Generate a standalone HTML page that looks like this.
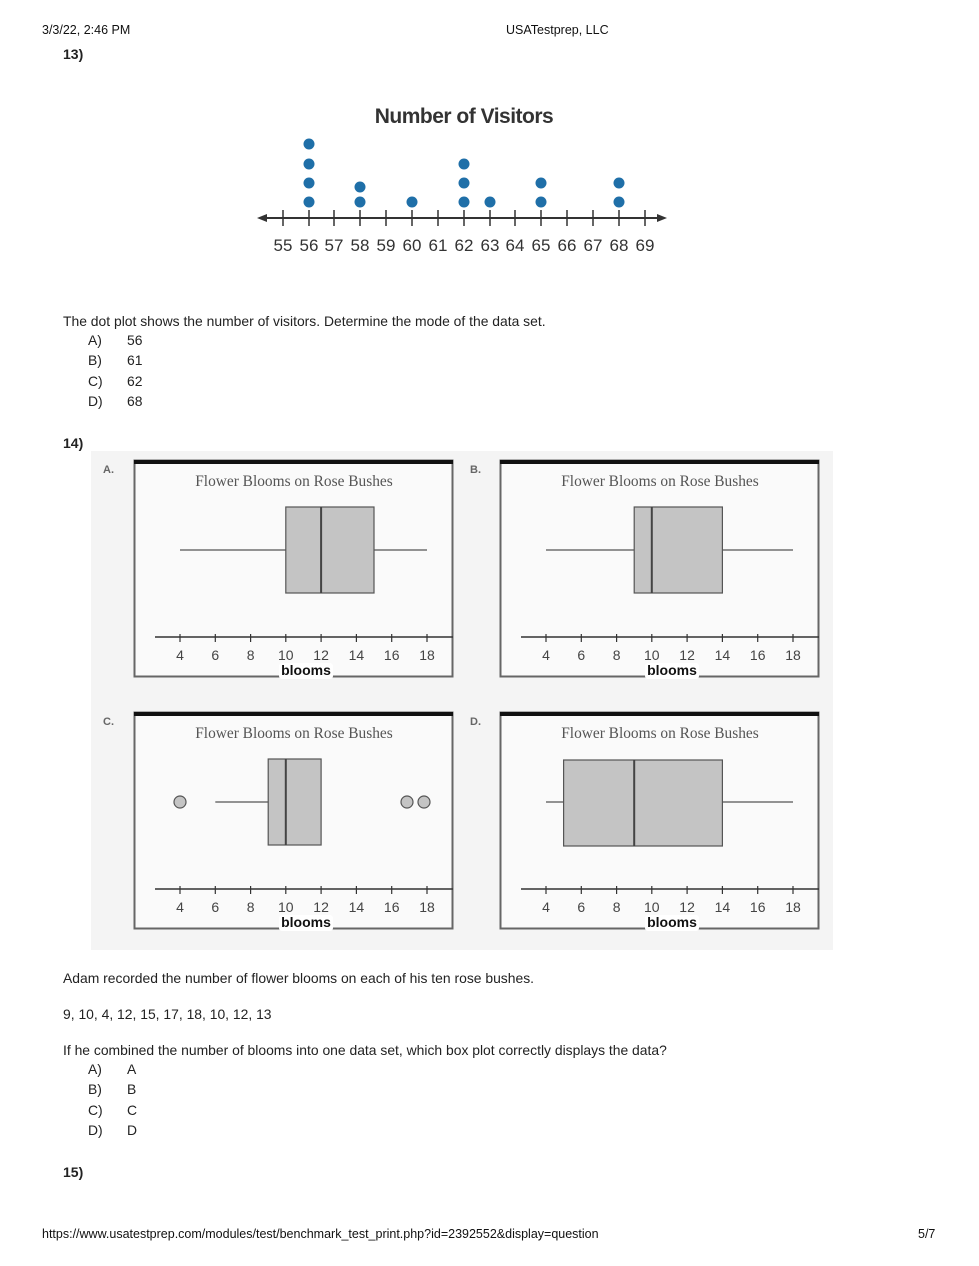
<!DOCTYPE html>
<html><head><meta charset="utf-8"><style>
body{margin:0;width:979px;height:1266px;background:#fff;position:relative;font-family:"Liberation Sans",sans-serif;color:#222;overflow:hidden}
.a{position:absolute;white-space:nowrap}
.h{font-size:12.5px;color:#111}
.t{font-size:13.9px}
.b{font-weight:bold;font-size:14px}
</style></head><body>
<div class="a h" style="left:42px;top:23px">3/3/22, 2:46 PM</div>
<div class="a h" style="left:506px;top:23px">USATestprep, LLC</div>
<div class="a b" style="left:63px;top:46px">13)</div>

<svg class="a" style="left:0;top:0" width="979" height="1266">
<text x="464" y="123" text-anchor="middle" font-family="Liberation Sans" font-weight="bold" font-size="21" fill="#333" letter-spacing="-0.5">Number of Visitors</text>
<line x1="262" y1="218" x2="662" y2="218" stroke="#333" stroke-width="2"/>
<polygon points="257,218 267,214 267,222" fill="#333"/><polygon points="667,218 657,214 657,222" fill="#333"/>
<g stroke="#333" stroke-width="1.5">
<line x1="283" y1="210" x2="283" y2="226"/><line x1="309" y1="210" x2="309" y2="226"/><line x1="334" y1="210" x2="334" y2="226"/><line x1="360" y1="210" x2="360" y2="226"/><line x1="386" y1="210" x2="386" y2="226"/><line x1="412" y1="210" x2="412" y2="226"/><line x1="438" y1="210" x2="438" y2="226"/><line x1="464" y1="210" x2="464" y2="226"/><line x1="490" y1="210" x2="490" y2="226"/><line x1="515" y1="210" x2="515" y2="226"/><line x1="541" y1="210" x2="541" y2="226"/><line x1="567" y1="210" x2="567" y2="226"/><line x1="593" y1="210" x2="593" y2="226"/><line x1="619" y1="210" x2="619" y2="226"/><line x1="645" y1="210" x2="645" y2="226"/>
</g>
<g font-family="Liberation Sans" font-size="17" fill="#333" text-anchor="middle">
<text x="283" y="251">55</text><text x="309" y="251">56</text><text x="334" y="251">57</text><text x="360" y="251">58</text><text x="386" y="251">59</text><text x="412" y="251">60</text><text x="438" y="251">61</text><text x="464" y="251">62</text><text x="490" y="251">63</text><text x="515" y="251">64</text><text x="541" y="251">65</text><text x="567" y="251">66</text><text x="593" y="251">67</text><text x="619" y="251">68</text><text x="645" y="251">69</text>
</g>
<g fill="#1f6fa8">
<circle cx="309" cy="202" r="5.5"/><circle cx="309" cy="183" r="5.5"/><circle cx="309" cy="164" r="5.5"/><circle cx="309" cy="144" r="5.5"/>
<circle cx="360" cy="202" r="5.5"/><circle cx="360" cy="187" r="5.5"/>
<circle cx="412" cy="202" r="5.5"/>
<circle cx="464" cy="202" r="5.5"/><circle cx="464" cy="183" r="5.5"/><circle cx="464" cy="164" r="5.5"/>
<circle cx="490" cy="202" r="5.5"/>
<circle cx="541" cy="202" r="5.5"/><circle cx="541" cy="183" r="5.5"/>
<circle cx="619" cy="202" r="5.5"/><circle cx="619" cy="183" r="5.5"/>
</g>

<rect x="91" y="451" width="742" height="499" fill="#f4f4f4"/>
<defs>
<g id="fr">
<rect x="0.5" y="0.5" width="318" height="216" fill="#fafafa" stroke="#666" stroke-width="2"/>
<rect x="0" y="0" width="319" height="4" fill="#111"/>
<text x="160" y="26" text-anchor="middle" font-family="Liberation Serif" font-size="15.4" fill="#555">Flower Blooms on Rose Bushes</text>
<line x1="21" y1="177" x2="319" y2="177" stroke="#333" stroke-width="1.5"/>
<g stroke="#333" stroke-width="1.2"><line x1="46" y1="174" x2="46" y2="182"/><line x1="81.3" y1="174" x2="81.3" y2="182"/><line x1="116.6" y1="174" x2="116.6" y2="182"/><line x1="151.8" y1="174" x2="151.8" y2="182"/><line x1="187.1" y1="174" x2="187.1" y2="182"/><line x1="222.4" y1="174" x2="222.4" y2="182"/><line x1="257.7" y1="174" x2="257.7" y2="182"/><line x1="293" y1="174" x2="293" y2="182"/></g>
<g font-family="Liberation Sans" font-size="14" fill="#444" text-anchor="middle"><text x="46" y="200">4</text><text x="81.3" y="200">6</text><text x="116.6" y="200">8</text><text x="151.8" y="200">10</text><text x="187.1" y="200">12</text><text x="222.4" y="200">14</text><text x="257.7" y="200">16</text><text x="293" y="200">18</text></g>
<rect x="145" y="203" width="54" height="16" rx="3" fill="#fff"/>
<text x="172" y="215" text-anchor="middle" font-family="Liberation Sans" font-weight="bold" font-size="14" fill="#111">blooms</text>
</g>
</defs>
<g font-family="Liberation Sans" font-weight="bold" font-size="11" fill="#666"><text x="103" y="473">A.</text><text x="470" y="473">B.</text><text x="103" y="725">C.</text><text x="470" y="725">D.</text></g>
<g transform="translate(134,460)"><use href="#fr"/>
<line x1="46" y1="90" x2="293" y2="90" stroke="#555" stroke-width="1.2"/>
<rect x="151.8" y="47" width="88.2" height="86" fill="#c4c4c4" stroke="#555" stroke-width="1.2"/>
<line x1="187.1" y1="47" x2="187.1" y2="133" stroke="#444" stroke-width="2"/></g>
<g transform="translate(500,460)"><use href="#fr"/>
<line x1="46" y1="90" x2="293" y2="90" stroke="#555" stroke-width="1.2"/>
<rect x="134.2" y="47" width="88.2" height="86" fill="#c4c4c4" stroke="#555" stroke-width="1.2"/>
<line x1="151.8" y1="47" x2="151.8" y2="133" stroke="#444" stroke-width="2"/></g>
<g transform="translate(134,712)"><use href="#fr"/>
<line x1="81.3" y1="90" x2="134.2" y2="90" stroke="#555" stroke-width="1.2"/>
<rect x="134.2" y="47" width="52.9" height="86" fill="#c4c4c4" stroke="#555" stroke-width="1.2"/>
<line x1="151.8" y1="47" x2="151.8" y2="133" stroke="#444" stroke-width="2"/>
<g fill="#c4c4c4" stroke="#555" stroke-width="1.2"><circle cx="46" cy="90" r="6"/><circle cx="273" cy="90" r="6"/><circle cx="290" cy="90" r="6"/></g></g>
<g transform="translate(500,712)"><use href="#fr"/>
<line x1="46" y1="90" x2="293" y2="90" stroke="#555" stroke-width="1.2"/>
<rect x="63.6" y="48" width="158.8" height="86" fill="#c4c4c4" stroke="#555" stroke-width="1.2"/>
<line x1="134.2" y1="48" x2="134.2" y2="134" stroke="#444" stroke-width="2"/></g>
</svg>

<div class="a t" style="left:63px;top:313px">The dot plot shows the number of visitors. Determine the mode of the data set.</div>
<div class="a t" style="left:88px;top:332px">A)</div><div class="a t" style="left:127px;top:332px">56</div>
<div class="a t" style="left:88px;top:352px">B)</div><div class="a t" style="left:127px;top:352px">61</div>
<div class="a t" style="left:88px;top:373px">C)</div><div class="a t" style="left:127px;top:373px">62</div>
<div class="a t" style="left:88px;top:393px">D)</div><div class="a t" style="left:127px;top:393px">68</div>
<div class="a b" style="left:63px;top:435px">14)</div>
<div class="a t" style="left:63px;top:970px">Adam recorded the number of flower blooms on each of his ten rose bushes.</div>
<div class="a t" style="left:63px;top:1006px">9, 10, 4, 12, 15, 17, 18, 10, 12, 13</div>
<div class="a t" style="left:63px;top:1042px">If he combined the number of blooms into one data set, which box plot correctly displays the data?</div>
<div class="a t" style="left:88px;top:1061px">A)</div><div class="a t" style="left:127px;top:1061px">A</div>
<div class="a t" style="left:88px;top:1081px">B)</div><div class="a t" style="left:127px;top:1081px">B</div>
<div class="a t" style="left:88px;top:1102px">C)</div><div class="a t" style="left:127px;top:1102px">C</div>
<div class="a t" style="left:88px;top:1122px">D)</div><div class="a t" style="left:127px;top:1122px">D</div>
<div class="a b" style="left:63px;top:1164px">15)</div>
<div class="a h" style="left:42px;top:1227px">https://www.usatestprep.com/modules/test/benchmark_test_print.php?id=2392552&amp;display=question</div>
<div class="a h" style="left:918px;top:1227px">5/7</div>
</body></html>
